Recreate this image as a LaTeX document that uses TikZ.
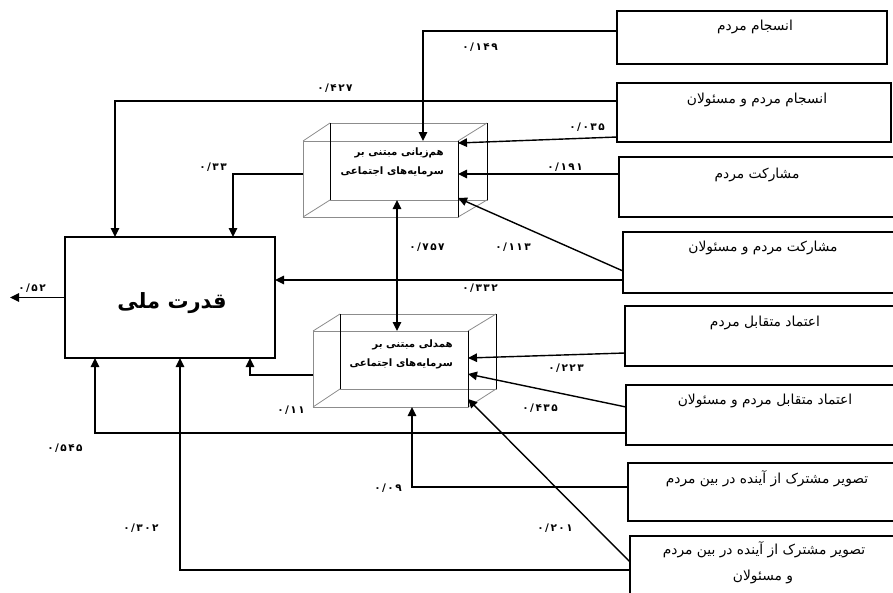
\documentclass[tikz,border=0pt]{standalone}
\usepackage{fontspec}
\newfontfamily\fa[Script=Arabic]{DejaVu Sans}
\newfontfamily\fadig[LetterSpace=14]{DejaVu Sans}
\TeXXeTstate=1
\usetikzlibrary{arrows.meta,calc}
\begin{document}
\begin{tikzpicture}[x=1pt,y=-1pt,
  rbox/.style={draw=black, line width=1.6pt, inner sep=0pt, outer sep=0pt},
  cubeg/.style={draw=black!45, line width=0.8pt, inner sep=0pt, outer sep=0pt},
  cubek/.style={draw=black, line width=0.9pt},
  conn/.style={draw=black, line width=1.4pt, -{Triangle[length=9pt,width=8.5pt]}},
  conn2/.style={draw=black, line width=1.4pt, {Triangle[length=9pt,width=8.5pt]}-{Triangle[length=9pt,width=8.5pt]}},
  lbl/.style={font=\fadig\bfseries\fontsize{10.5}{11}\selectfont, inner sep=0pt},
  rtext/.style={font=\fa\fontsize{13.8}{15}\selectfont, inner sep=0pt, align=center},
  ctext/.style={font=\fa\bfseries\fontsize{10.2}{19}\selectfont, inner sep=0pt, align=right},
  qtext/.style={font=\fa\bfseries\fontsize{21}{24}\selectfont, inner sep=0pt}
]
\useasboundingbox (0,0) rectangle (893,592);
\fill[white] (0,0) rectangle (893,592);

% right-hand boxes
\node[rbox, minimum width=270pt, minimum height=53pt] (b1) at (752,37.5) {};
\node[rbox, minimum width=274pt, minimum height=59pt] (b2) at (754,112.5) {};
\node[rbox, minimum width=284pt, minimum height=60pt] (b3) at (761,187) {};
\node[rbox, minimum width=280pt, minimum height=61pt] (b4) at (763,262.5) {};
\node[rbox, minimum width=280pt, minimum height=60pt] (b5) at (765,336) {};
\node[rbox, minimum width=279pt, minimum height=60pt] (b6) at (765.5,415) {};
\node[rbox, minimum width=277pt, minimum height=58pt] (b7) at (766.5,492) {};
\node[rbox, minimum width=275pt, minimum height=64pt] (b8) at (767.5,568) {};

\node[rtext] (t1) at (755,27) {\beginR انسجام مردم\endR};
\node[rtext] (t2) at (757,100) {\beginR انسجام مردم و مسئولان\endR};
\node[rtext] (t3) at (757,175) {\beginR مشارکت مردم\endR};
\node[rtext] (t4) at (763,248) {\beginR مشارکت مردم و مسئولان\endR};
\node[rtext] (t5) at (765,323) {\beginR اعتماد متقابل مردم\endR};
\node[rtext] (t6) at (765,401) {\beginR اعتماد متقابل مردم و مسئولان\endR};
\node[rtext] (t7) at (767,479) {\beginR تصویر مشترک از آینده در بین مردم\endR};
\node[rtext] (t8a) at (764,550) {\beginR تصویر مشترک از آینده در بین مردم\endR};
\node[rtext] (t8b) at (763,577) {\beginR و مسئولان\endR};

% national power box
\node[rbox, minimum width=210pt, minimum height=121pt] (Q) at (170,297.5) {};
\node[qtext] (qt) at (172,303) {\beginR قدرت ملی\endR};

% top cube
\node[cubeg, minimum width=157pt, minimum height=77pt] (cTb) at (408.5,161.5) {};
\node[cubeg, minimum width=155pt, minimum height=76pt] (cT) at (380.5,179) {};
\draw[cubeg] (cT.north west) -- (cTb.north west);
\draw[cubeg] (cT.north east) -- (cTb.north east);
\draw[cubeg] (cT.south west) -- (cTb.south west);
\draw[cubeg] (cT.south east) -- (cTb.south east);
\draw[cubek] (cTb.north west) -- (cTb.south west);
\draw[cubek] (cT.north east) -- (cT.south east);
\draw[cubek] (cTb.north east) -- (cTb.south east);
\node[ctext, anchor=east] (ctt) at (444,162.5) {\beginR هم‌زبانی مبتنی بر\endR\\\beginR سرمایه‌های اجتماعی\endR};

% bottom cube
\node[cubeg, minimum width=156pt, minimum height=75pt] (cBb) at (418,351.5) {};
\node[cubeg, minimum width=155pt, minimum height=76pt] (cB) at (390.5,369) {};
\draw[cubeg] (cB.north west) -- (cBb.north west);
\draw[cubeg] (cB.north east) -- (cBb.north east);
\draw[cubeg] (cB.south west) -- (cBb.south west);
\draw[cubeg] (cB.south east) -- (cBb.south east);
\draw[cubek] (cBb.north west) -- (cBb.south west);
\draw[cubek] (cB.north east) -- (cB.south east);
\draw[cubek] (cBb.north east) -- (cBb.south east);
\node[ctext, anchor=east] (cbt) at (453,354) {\beginR همدلی مبتنی بر\endR\\\beginR سرمایه‌های اجتماعی\endR};

% output
\coordinate (out) at (10,297.5);
\draw[conn] (Q.west) -- (out);

% connectors to the top cube
\draw[conn] ([yshift=6.5pt]b1.west) -| ([xshift=42.5pt]cT.north);
\draw[conn] ([yshift=-24.5pt]b2.west) -- ([yshift=36pt]cT.east);
\draw[conn] ([yshift=13pt]b3.west) -- ([yshift=5pt]cT.east);
\draw[conn] ([yshift=-8.5pt]b4.west) -- ([yshift=-19pt]cT.east);

% connectors to the bottom cube
\draw[conn] ([yshift=-17pt]b5.west) -- ([yshift=11pt]cB.east);
\draw[conn] ([yshift=8pt]b6.west) -- ([yshift=-5pt]cB.east);
\draw[conn] ([yshift=5pt]b7.west) -| ([xshift=21.5pt]cB.south);
\draw[conn] ([yshift=6pt]b8.west) -- ([yshift=-30pt]cB.east);

% connectors to national power
\draw[conn] ([yshift=11.5pt]b2.west) -| ([xshift=-55pt]Q.north);
\draw[conn] ([yshift=5pt]cT.west) -| ([xshift=63pt]Q.north);
\draw[conn] ([yshift=-17.5pt]b4.west) -- ([yshift=17.5pt]Q.east);
\draw[conn] ([yshift=-18pt]b6.west) -| ([xshift=-75pt]Q.south);
\draw[conn] ([yshift=-2pt]b8.west) -| ([xshift=10pt]Q.south);
\draw[conn] ([yshift=-6pt]cB.west) -| ([xshift=80pt]Q.south);

% between the cubes
\draw[conn2] ([xshift=-11.5pt]cTb.south) -- ([xshift=6.5pt]cB.north);

% coefficients
\node[lbl] (l1) at (480,47) {۰/۱۴۹};
\node[lbl] (l2) at (335,88) {۰/۴۲۷};
\node[lbl] (l3) at (587,127) {۰/۰۳۵};
\node[lbl] (l4) at (565,167) {۰/۱۹۱};
\node[lbl] (l5) at (213,167) {۰/۳۳};
\node[lbl] (l6) at (513,247) {۰/۱۱۳};
\node[lbl] (l7) at (427,247) {۰/۷۵۷};
\node[lbl] (l8) at (480,288) {۰/۳۳۲};
\node[lbl] (l9) at (32,288) {۰/۵۲};
\node[lbl] (l10) at (566,368) {۰/۲۲۳};
\node[lbl] (l11) at (540,408) {۰/۴۳۵};
\node[lbl] (l12) at (291,410) {۰/۱۱};
\node[lbl] (l13) at (65,448) {۰/۵۴۵};
\node[lbl] (l14) at (388,488) {۰/۰۹};
\node[lbl] (l15) at (141,528) {۰/۳۰۲};
\node[lbl] (l16) at (555,528) {۰/۲۰۱};
\end{tikzpicture}
\end{document}
